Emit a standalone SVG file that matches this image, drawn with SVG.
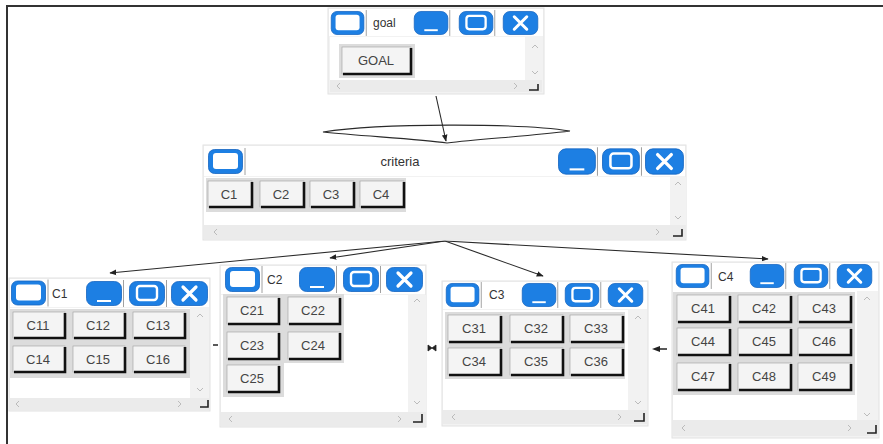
<svg xmlns="http://www.w3.org/2000/svg" xmlns:xlink="http://www.w3.org/1999/xlink" width="883" height="444" viewBox="0 0 883 444">
<style>
.win{fill:#f2f2f2;stroke:#e2e2e2;stroke-width:1}
.tb{fill:#ffffff}
.ct{fill:#ffffff}
.vs{fill:#f2f2f2}
.hs{fill:#ebebeb}
.pnl{fill:#dcdcdc}
.bt{fill:#f4f4f4;stroke:#a8a8a8;stroke-width:0.7}
.sh{fill:none;stroke:#111;stroke-width:2.6}
.lbl{font-family:"Liberation Sans",Arial,sans-serif;font-size:13px;fill:#444;text-anchor:middle}
.ttl{font-family:"Liberation Sans",Arial,sans-serif;font-size:12px;fill:#333}
.chev{fill:none;stroke:#bbbbbb;stroke-width:1}
.crn{fill:none;stroke:#222;stroke-width:1.6}
.con{fill:none;stroke:#2a2a2a;stroke-width:1.1}
</style>
<defs>
<symbol id="bR" viewBox="0 0 38 25" overflow="visible">
<rect x="0.5" y="0.5" width="34" height="24" rx="6" fill="#1d7fe3" stroke="#1565c0" stroke-width="0.8"/>
<rect x="5" y="4" width="25" height="16" rx="3" fill="#ffffff"/>
<line x1="37" y1="-1" x2="37" y2="26" stroke="#a0a0a0" stroke-width="1"/>
</symbol>
<symbol id="bM" viewBox="0 0 38 25" overflow="visible">
<rect x="0.5" y="0.5" width="35" height="24" rx="7" fill="#1d7fe3" stroke="#1565c0" stroke-width="0.8"/>
<line x1="11" y1="20" x2="25" y2="20" stroke="#ffffff" stroke-width="2"/>
<line x1="37.5" y1="-1" x2="37.5" y2="26" stroke="#a0a0a0" stroke-width="1"/>
</symbol>
<symbol id="bX" viewBox="0 0 38 25" overflow="visible">
<rect x="0.5" y="0.5" width="35" height="24" rx="7" fill="#1d7fe3" stroke="#1565c0" stroke-width="0.8"/>
<rect x="8" y="5" width="20" height="14" rx="3" fill="none" stroke="#ffffff" stroke-width="2.4"/>
<line x1="37.5" y1="-1" x2="37.5" y2="26" stroke="#a0a0a0" stroke-width="1"/>
</symbol>
<symbol id="bC" viewBox="0 0 38 25" overflow="visible">
<rect x="0.5" y="0.5" width="36" height="24" rx="7" fill="#1d7fe3" stroke="#1565c0" stroke-width="0.8"/>
<path d="M12,6 L25,19 M25,6 L12,19" stroke="#ffffff" stroke-width="3.2" stroke-linecap="round"/>
</symbol>
<marker id="ah" viewBox="0 0 10 10" refX="9" refY="5" markerWidth="7" markerHeight="7" orient="auto" markerUnits="userSpaceOnUse">
<path d="M0,1 L10,5 L0,9 z" fill="#222"/>
</marker>
</defs>

<rect x="0" y="0" width="883" height="444" fill="#ffffff"/>
<path d="M7,444 V6 H883" fill="none" stroke="#333" stroke-width="2"/>

<g id="connectors">
<line class="con" x1="436" y1="96" x2="446" y2="141" marker-end="url(#ah)"/>
<path class="con" d="M323,132 C380,123 520,123 570,131 C530,136 480,139 447,143 C420,139 360,136 323,132 Z"/>
<line class="con" x1="445" y1="241" x2="110" y2="273" marker-end="url(#ah)"/>
<line class="con" x1="445" y1="241" x2="330" y2="258" marker-end="url(#ah)"/>
<line class="con" x1="445" y1="241" x2="543" y2="276" marker-end="url(#ah)"/>
<line class="con" x1="445" y1="241" x2="768" y2="259" marker-end="url(#ah)"/>
<line x1="213" y1="345" x2="218" y2="345" stroke="#222" stroke-width="1.5"/>
<path d="M428,345 L432,348 L428,351 Z M436,345 L432,348 L436,351 Z" fill="#222" stroke="#222" stroke-width="0.8"/>
<path d="M652,349 L660,346 L660,352 Z" fill="#222"/>
<line x1="658" y1="349" x2="667" y2="349" stroke="#222" stroke-width="1.5"/>
</g>

<g id="goal">
<rect class="win" x="328" y="8" width="216" height="86"/>
<rect class="tb" x="329" y="9" width="214" height="27"/>
<use href="#bR" x="330" y="11" width="38" height="24"/>
<text class="ttl" x="373" y="27">goal</text>
<use href="#bM" x="413" y="11" width="38" height="24"/>
<use href="#bX" x="458" y="11" width="38" height="24"/>
<use href="#bC" x="502" y="11" width="38" height="24"/>
<rect class="ct" x="330" y="37" width="195" height="43"/>
<rect class="vs" x="525" y="37" width="17" height="43"/>
<rect class="hs" x="330" y="80" width="212" height="12"/>
<rect class="pnl" x="339" y="44" width="76" height="34"/>
<rect class="bt" x="342" y="47" width="69" height="27"/>
<path class="sh" d="M411,48 V74 H343"/>
<text class="lbl" x="376" y="65">GOAL</text>
<path class="chev" d="M532,48 L535,45 L538,48 M532,71 L535,74 L538,71 M340,83 L337,86 L340,89 M514,83 L517,86 L514,89"/>
<path class="crn" d="M529,90 H538 V84"/>
</g>

<g id="criteria">
<rect class="win" x="203" y="145" width="483" height="95"/>
<rect class="tb" x="204" y="146" width="481" height="30"/>
<use href="#bR" x="208" y="149" width="38" height="25"/>
<text class="ttl" x="400" y="166" text-anchor="middle" style="font-size:13px">criteria</text>
<use href="#bM" x="558" y="148" width="40" height="27"/>
<use href="#bX" x="602" y="148" width="40" height="27"/>
<use href="#bC" x="645" y="148" width="40" height="27"/>
<rect class="ct" x="204" y="177" width="466" height="48"/>
<rect class="vs" x="670" y="177" width="16" height="48"/>
<rect class="hs" x="204" y="225" width="482" height="14"/>
<rect class="pnl" x="206" y="178" width="200" height="34"/>
<rect class="bt" x="208" y="181" width="44" height="26"/><path class="sh" d="M252,182 V207 H209"/><text class="lbl" x="229" y="199">C1</text>
<rect class="bt" x="260" y="181" width="44" height="26"/><path class="sh" d="M304,182 V207 H261"/><text class="lbl" x="281" y="199">C2</text>
<rect class="bt" x="310" y="181" width="44" height="26"/><path class="sh" d="M354,182 V207 H311"/><text class="lbl" x="331" y="199">C3</text>
<rect class="bt" x="360" y="181" width="44" height="26"/><path class="sh" d="M404,182 V207 H361"/><text class="lbl" x="381" y="199">C4</text>
<path class="chev" d="M675,185 L678,182 L681,185 M675,216 L678,219 L681,216 M217,229 L214,232 L217,235 M656,229 L659,232 L656,235"/>
<path class="crn" d="M673,236 H682 V229"/>
</g>

<g id="c1">
<rect class="win" x="9" y="278" width="201" height="133"/>
<rect class="tb" x="10" y="279" width="199" height="28"/>
<use href="#bR" x="11" y="280" width="38" height="26"/>
<text class="ttl" x="52" y="298">C1</text>
<use href="#bM" x="85" y="281" width="40" height="25"/>
<use href="#bX" x="128" y="281" width="40" height="25"/>
<use href="#bC" x="171" y="281" width="38" height="25"/>
<rect class="ct" x="10" y="308" width="180" height="90"/>
<rect class="vs" x="190" y="308" width="19" height="90"/>
<rect class="hs" x="10" y="398" width="199" height="12"/>
<rect class="pnl" x="10" y="309" width="180" height="69"/>
<rect class="bt" x="13" y="312" width="52" height="26"/><path class="sh" d="M65,313 V338 H14"/><text class="lbl" x="38" y="330">C11</text>
<rect class="bt" x="73" y="312" width="52" height="26"/><path class="sh" d="M125,313 V338 H74"/><text class="lbl" x="98" y="330">C12</text>
<rect class="bt" x="133" y="312" width="52" height="26"/><path class="sh" d="M185,313 V338 H134"/><text class="lbl" x="158" y="330">C13</text>
<rect class="bt" x="13" y="346" width="52" height="26"/><path class="sh" d="M65,347 V372 H14"/><text class="lbl" x="38" y="364">C14</text>
<rect class="bt" x="73" y="346" width="52" height="26"/><path class="sh" d="M125,347 V372 H74"/><text class="lbl" x="98" y="364">C15</text>
<rect class="bt" x="133" y="346" width="52" height="26"/><path class="sh" d="M185,347 V372 H134"/><text class="lbl" x="158" y="364">C16</text>
<path class="chev" d="M197,317 L200,314 L203,317 M197,388 L200,391 L203,388 M19,401 L16,404 L19,407 M178,401 L181,404 L178,407"/>
<path class="crn" d="M200,407 H208 V400"/>
</g>

<g id="c2">
<rect class="win" x="220" y="265" width="206" height="162"/>
<rect class="tb" x="221" y="266" width="204" height="28"/>
<use href="#bR" x="225" y="267" width="38" height="25"/>
<text class="ttl" x="267" y="284">C2</text>
<use href="#bM" x="298" y="267" width="40" height="25"/>
<use href="#bX" x="342" y="267" width="40" height="25"/>
<use href="#bC" x="386" y="267" width="38" height="25"/>
<rect class="ct" x="221" y="295" width="187" height="117"/>
<rect class="vs" x="408" y="295" width="18" height="117"/>
<rect class="hs" x="221" y="412" width="205" height="14"/>
<rect class="pnl" x="223" y="294" width="121" height="69"/>
<rect class="pnl" x="223" y="362" width="61" height="35"/>
<rect class="bt" x="227" y="297" width="52" height="27"/><path class="sh" d="M279,298 V324 H228"/><text class="lbl" x="252" y="315">C21</text>
<rect class="bt" x="288" y="297" width="52" height="27"/><path class="sh" d="M340,298 V324 H289"/><text class="lbl" x="313" y="315">C22</text>
<rect class="bt" x="227" y="332" width="52" height="27"/><path class="sh" d="M279,333 V359 H228"/><text class="lbl" x="252" y="350">C23</text>
<rect class="bt" x="288" y="332" width="52" height="27"/><path class="sh" d="M340,333 V359 H289"/><text class="lbl" x="313" y="350">C24</text>
<rect class="bt" x="227" y="365" width="52" height="27"/><path class="sh" d="M279,366 V392 H228"/><text class="lbl" x="252" y="383">C25</text>
<path class="chev" d="M414,302 L417,299 L420,302 M414,401 L417,404 L420,401 M232,416 L229,419 L232,422 M398,416 L401,419 L398,422"/>
<path class="crn" d="M413,422 H422 V414"/>
</g>

<g id="c3">
<rect class="win" x="442" y="281" width="206" height="145"/>
<rect class="tb" x="443" y="282" width="204" height="27"/>
<use href="#bR" x="445" y="283" width="38" height="24"/>
<text class="ttl" x="489" y="299">C3</text>
<use href="#bM" x="520" y="283" width="40" height="24"/>
<use href="#bX" x="563" y="283" width="40" height="24"/>
<use href="#bC" x="607" y="283" width="38" height="24"/>
<rect class="ct" x="443" y="310" width="185" height="100"/>
<rect class="vs" x="628" y="310" width="19" height="100"/>
<rect class="hs" x="443" y="410" width="204" height="14"/>
<rect class="pnl" x="445" y="312" width="180" height="67"/>
<rect class="bt" x="448" y="315" width="53" height="27"/><path class="sh" d="M501,316 V342 H449"/><text class="lbl" x="474" y="333">C31</text>
<rect class="bt" x="510" y="315" width="53" height="27"/><path class="sh" d="M563,316 V342 H511"/><text class="lbl" x="536" y="333">C32</text>
<rect class="bt" x="570" y="315" width="53" height="27"/><path class="sh" d="M623,316 V342 H571"/><text class="lbl" x="596" y="333">C33</text>
<rect class="bt" x="448" y="348" width="53" height="27"/><path class="sh" d="M501,349 V375 H449"/><text class="lbl" x="474" y="366">C34</text>
<rect class="bt" x="510" y="348" width="53" height="27"/><path class="sh" d="M563,349 V375 H511"/><text class="lbl" x="536" y="366">C35</text>
<rect class="bt" x="570" y="348" width="53" height="27"/><path class="sh" d="M623,349 V375 H571"/><text class="lbl" x="596" y="366">C36</text>
<path class="chev" d="M635,319 L638,316 L641,319 M635,401 L638,404 L641,401 M455,414 L452,417 L455,420 M618,414 L621,417 L618,420"/>
<path class="crn" d="M634,421 H644 V413"/>
</g>

<g id="c4">
<rect class="win" x="672" y="262" width="207" height="176"/>
<rect class="tb" x="673" y="263" width="205" height="28"/>
<use href="#bR" x="675" y="264" width="38" height="24"/>
<text class="ttl" x="718" y="281">C4</text>
<use href="#bM" x="748" y="264" width="40" height="24"/>
<use href="#bX" x="792" y="264" width="40" height="24"/>
<use href="#bC" x="835" y="264" width="40" height="24"/>
<rect class="ct" x="673" y="291" width="184" height="129"/>
<rect class="vs" x="857" y="291" width="21" height="129"/>
<rect class="hs" x="673" y="420" width="205" height="16"/>
<rect class="pnl" x="673" y="292" width="182" height="103"/>
<rect class="bt" x="677" y="295" width="53" height="27"/><path class="sh" d="M730,296 V322 H678"/><text class="lbl" x="703" y="313">C41</text>
<rect class="bt" x="738" y="295" width="53" height="27"/><path class="sh" d="M791,296 V322 H739"/><text class="lbl" x="764" y="313">C42</text>
<rect class="bt" x="798" y="295" width="53" height="27"/><path class="sh" d="M851,296 V322 H799"/><text class="lbl" x="824" y="313">C43</text>
<rect class="bt" x="677" y="328" width="53" height="27"/><path class="sh" d="M730,329 V355 H678"/><text class="lbl" x="703" y="346">C44</text>
<rect class="bt" x="738" y="328" width="53" height="27"/><path class="sh" d="M791,329 V355 H739"/><text class="lbl" x="764" y="346">C45</text>
<rect class="bt" x="798" y="328" width="53" height="27"/><path class="sh" d="M851,329 V355 H799"/><text class="lbl" x="824" y="346">C46</text>
<rect class="bt" x="677" y="363" width="53" height="27"/><path class="sh" d="M730,364 V390 H678"/><text class="lbl" x="703" y="381">C47</text>
<rect class="bt" x="738" y="363" width="53" height="27"/><path class="sh" d="M791,364 V390 H739"/><text class="lbl" x="764" y="381">C48</text>
<rect class="bt" x="798" y="363" width="53" height="27"/><path class="sh" d="M851,364 V390 H799"/><text class="lbl" x="824" y="381">C49</text>
<path class="chev" d="M864,300 L867,297 L870,300 M864,413 L867,416 L870,413 M685,425 L682,428 L685,431 M848,425 L851,428 L848,431"/>
<path class="crn" d="M867,433 H876 V425"/>
</g>
</svg>
